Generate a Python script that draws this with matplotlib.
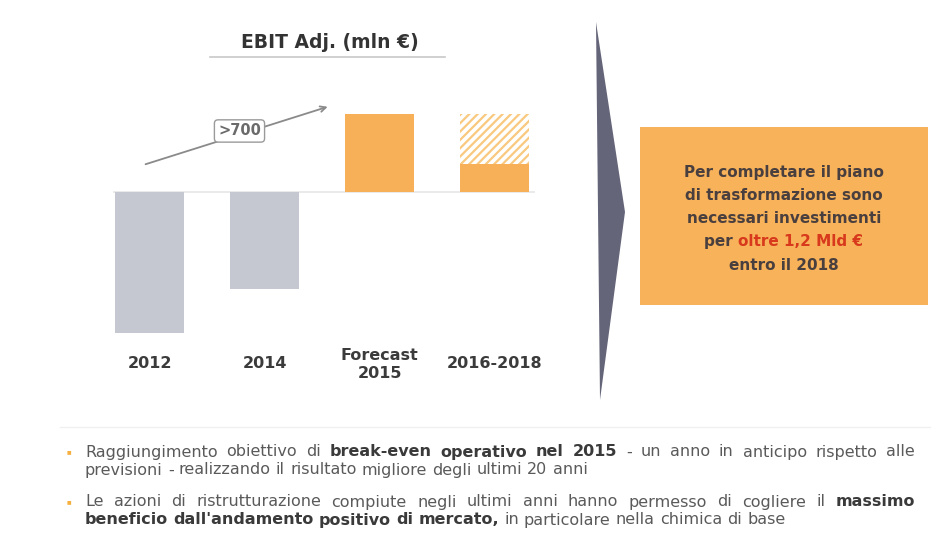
import matplotlib
matplotlib.use("Agg")
import matplotlib.pyplot as plt
from matplotlib.patches import Polygon, Rectangle

# ---- data ----
categories = ["2012", "2014", "Forecast\n2015", "2016-2018"]
ebit = [-450, -310, 250, 90]          # mln €
target_2016_2018 = 250                # hatched upper part of last bar
bar_colors = ["#c5c8d1", "#c5c8d1", "#f7b057", "#f7b057"]
gain_label = ">700"

title = "EBIT Adj. (mln €)"
box_lines = [
    [("Per completare il piano", "#4a3f3f")],
    [("di trasformazione sono", "#4a3f3f")],
    [("necessari investimenti", "#4a3f3f")],
    [("per ", "#4a3f3f"), ("oltre 1,2 Mld €", "#d8381c")],
    [("entro il 2018", "#4a3f3f")],
]
bullets = [
    [[("Raggiungimento obiettivo di ", False), ("break-even operativo nel 2015", True),
      (" - un anno in anticipo rispetto alle", False)],
     [("previsioni - realizzando il risultato migliore degli ultimi 20 anni", False)]],
    [[("Le azioni di ristrutturazione compiute negli ultimi anni hanno permesso di cogliere il ", False),
      ("massimo", True)],
     [("beneficio dall'andamento positivo di mercato", True),
      (", in particolare nella chimica di base", False)]],
]

W, H = 935, 537
plt.rcParams["hatch.linewidth"] = 1.6
fig = plt.figure(figsize=(W / 100, H / 100), dpi=100)
fig.patch.set_facecolor("white")


def fx(px):
    return px / W


def fy(py):
    return 1 - py / H


# ---- bar chart ----
ax = fig.add_axes([fx(113), fy(345), fx(535) - fx(113), fy(100) - fy(345)])
x = list(range(len(categories)))
ax.bar(x, ebit, width=0.6, color=bar_colors, linewidth=0, zorder=2)
ax.bar(x[3], target_2016_2018 - ebit[3], bottom=ebit[3], width=0.6,
       facecolor="white", edgecolor="#f8c97e", hatch="////", linewidth=0, zorder=2)
ax.axhline(0, color="#e6e6e6", linewidth=1.2, zorder=1)
ax.set_xlim(-0.32, 3.35)
ax.set_ylim(-489, 294)
ax.axis("off")

for xi, lab in zip(x, categories):
    ax.text(xi, -552 if "\n" in lab else -548, lab, ha="center", va="center",
            fontsize=11.5, fontweight="bold", color="#3b3b3b", linespacing=1.25)

ax.annotate("", xy=(1.57, 275), xytext=(-0.06, 86),
            arrowprops=dict(arrowstyle="->", color="#8a8a8a", lw=1.3))
ax.text(0.78, 195, gain_label, ha="center", va="center", fontsize=10.5,
        fontweight="bold", color="#6a6a6a",
        bbox=dict(boxstyle="round,pad=0.25", facecolor="white", edgecolor="#9a9a9a", lw=1))

fig.text(fx(330), fy(42), title, ha="center", va="center", fontsize=13.5,
         fontweight="bold", color="#333333")
fig.add_artist(plt.Line2D([fx(210), fx(445)], [fy(57), fy(57)], color="#c8c8c8", lw=1.2))

# ---- chevron ----
fig.add_artist(Polygon([[fx(596), fy(22)], [fx(600), fy(400)], [fx(625), fy(212)]],
                       closed=True, facecolor="#65657a", edgecolor="none",
                       transform=fig.transFigure))

# ---- orange box ----
fig.add_artist(Rectangle((fx(640), fy(305)), fx(928) - fx(640), fy(127) - fy(305),
                         facecolor="#f7b25a", edgecolor="none", transform=fig.transFigure))

renderer = fig.canvas.get_renderer()


def text_width(s, **kw):
    t = fig.text(0, 0, s, **kw)
    w = t.get_window_extent(renderer).width
    t.remove()
    return w


box_kw = dict(fontsize=11, fontweight="bold")
for i, segs in enumerate(box_lines):
    y = 172 + i * 23.3
    total = sum(text_width(s, **box_kw) for s, _ in segs)
    xpos = 784 - total / 2
    for s, c in segs:
        fig.text(fx(xpos), fy(y), s, ha="left", va="center", color=c, **box_kw)
        xpos += text_width(s, **box_kw)

# ---- bottom notes ----
fig.add_artist(plt.Line2D([fx(60), fx(930)], [fy(427), fy(427)], color="#f0f0f0", lw=1))
note_font = ["Liberation Sans Narrow", "DejaVu Sans"]
note_size = 11.5


def draw_line(segs, x0, x1, y, justify):
    words = []
    for s, bold in segs:
        for wd in s.split(" "):
            if wd:
                words.append((wd, bold))
    kw = lambda b: dict(fontsize=note_size, family=note_font,
                        fontweight="bold" if b else "normal",
                        color="#3a3a3a" if b else "#5a5a5a")
    widths = [text_width(w, **kw(b)) for w, b in words]
    space = text_width("a a", **kw(False)) - text_width("aa", **kw(False))
    if justify and len(words) > 1:
        space = (x1 - x0 - sum(widths)) / (len(words) - 1)
    xpos = x0
    for (w, b), wd in zip(words, widths):
        fig.text(fx(xpos), fy(y), w, ha="left", va="center", **kw(b))
        xpos += wd + space


def fix_commas(segs):
    # glue a leading comma to the previous word
    out = []
    for s, b in segs:
        if s.startswith(","):
            prev, pb = out[-1]
            out[-1] = (prev + ",", pb)
            s = s[1:]
        out.append((s, b))
    return out


line_y = [[452, 470], [502, 520]]
for bi, lines in enumerate(bullets):
    fig.text(fx(69), fy(line_y[bi][0]), "■", ha="center", va="center",
             fontsize=3.5, color="#f5b040")
    for li, segs in enumerate(lines):
        segs = fix_commas(segs)
        draw_line(segs, 85, 915, line_y[bi][li], justify=(li == 0))

fig.savefig("out.png", dpi=100, facecolor="white")
